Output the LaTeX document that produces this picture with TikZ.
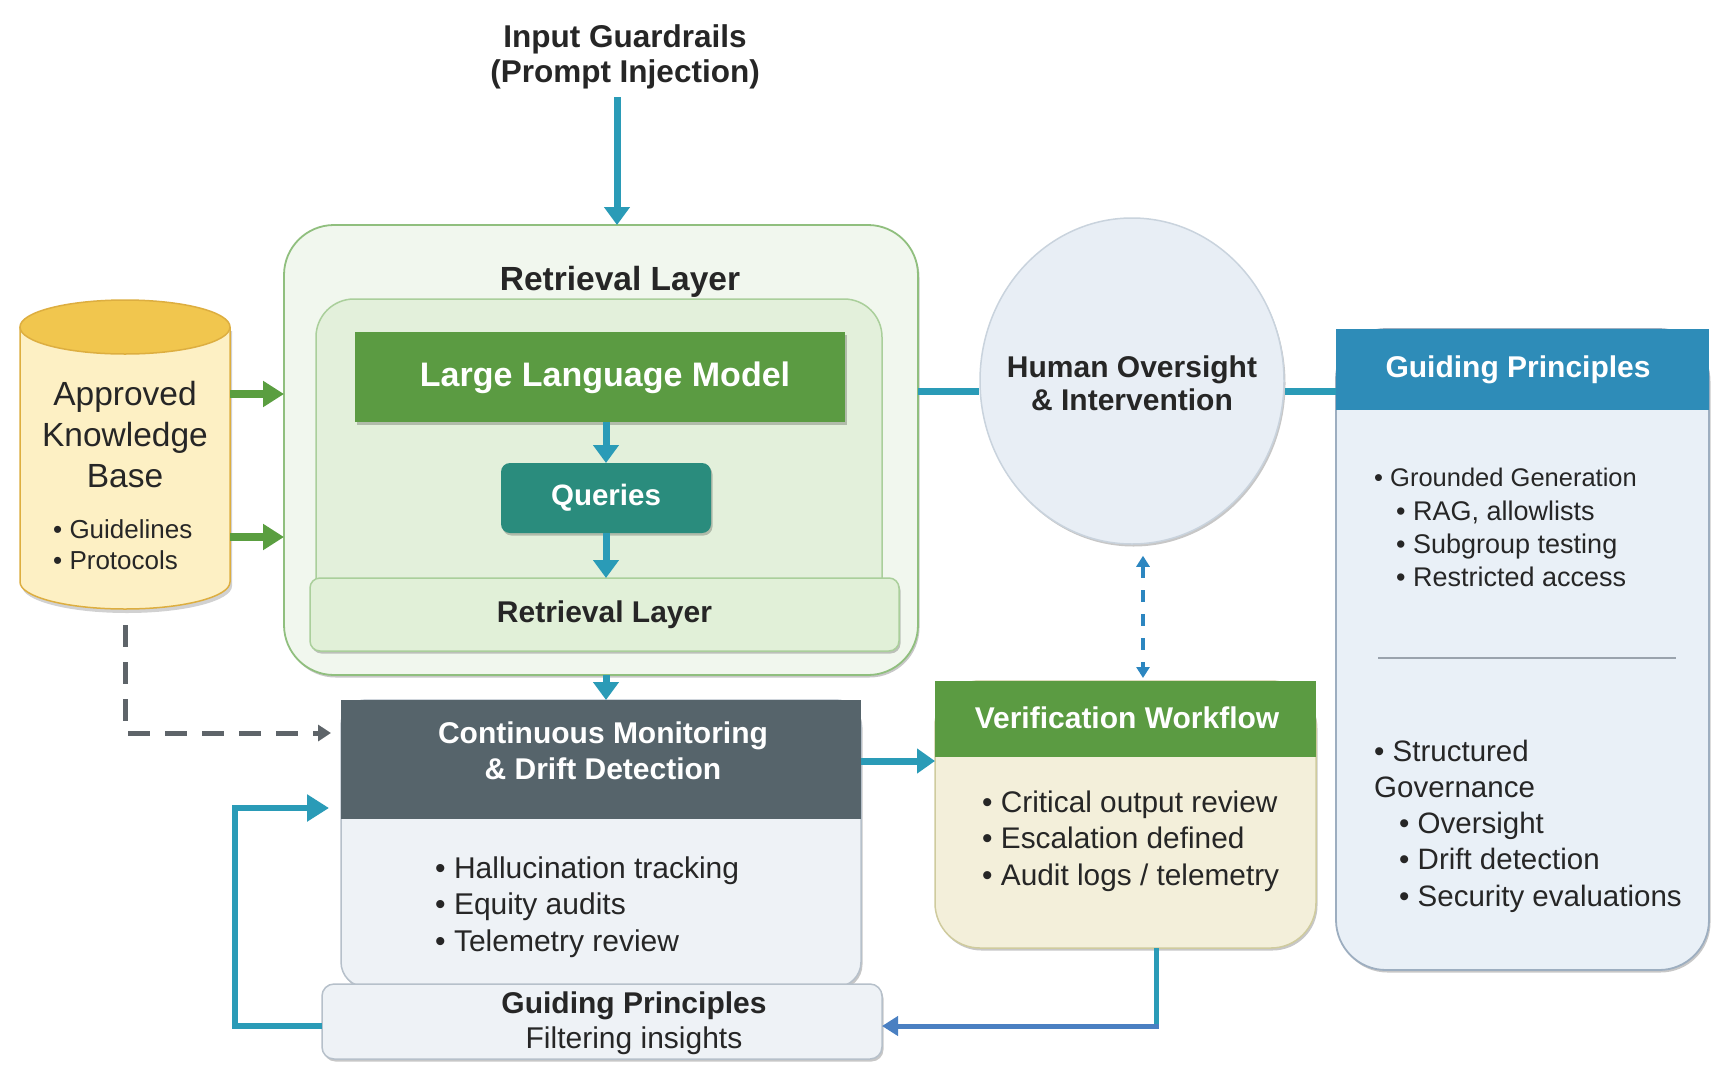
\documentclass[tikz,border=0pt]{standalone}
\usepackage{fontspec}
\setmainfont{Liberation Sans}
\usetikzlibrary{arrows.meta,shapes.geometric,shadows}
\newcommand{\myfs}[2]{\fontsize{#1pt}{#2pt}\selectfont}
\definecolor{tealA}{HTML}{2A9BB7}
\definecolor{greenA}{HTML}{5B9B42}
\definecolor{greenArr}{HTML}{5A9E40}
\definecolor{queriesC}{HTML}{2A8C7D}
\definecolor{outerF}{HTML}{F1F7EE}
\definecolor{outerD}{HTML}{90BF7E}
\definecolor{innerF}{HTML}{E3F0DB}
\definecolor{innerD}{HTML}{AACF9B}
\definecolor{barF}{HTML}{E1F0D8}
\definecolor{cylBody}{HTML}{FDF0C4}
\definecolor{cylTop}{HTML}{F1C64E}
\definecolor{cylD}{HTML}{DDAE40}
\definecolor{cmHead}{HTML}{56646B}
\definecolor{paleF}{HTML}{EEF2F6}
\definecolor{paleD}{HTML}{B6C0CA}
\definecolor{verBody}{HTML}{F3EFDA}
\definecolor{verD}{HTML}{CFCB9E}
\definecolor{humF}{HTML}{E8EEF5}
\definecolor{humD}{HTML}{C9D3DD}
\definecolor{gpHead}{HTML}{2E8CB8}
\definecolor{gpBody}{HTML}{E9F0F7}
\definecolor{gpD}{HTML}{9DAEC0}
\definecolor{sepC}{HTML}{9AA3AD}
\definecolor{dashGray}{HTML}{5E6469}
\definecolor{dashBlue}{HTML}{2C86C0}
\definecolor{fbBlue}{HTML}{4A80C2}
\definecolor{txt}{HTML}{262626}
\tikzset{
  shad/.style={drop shadow={shadow xshift=1.5pt,shadow yshift=-2.5pt,opacity=0.22,fill=black}},
  box/.style={rectangle, inner sep=0pt, outer sep=0pt},
  tarrow/.style={draw=tealA, line width=7pt, -{Triangle[length=18pt,width=25pt]}},
  tline/.style={draw=tealA, line width=7pt},
  garrow/.style={draw=greenArr, line width=8pt, -{Triangle[length=21pt,width=25pt]}},
  darktext/.style={text=txt, inner sep=0pt},
  whitetext/.style={text=white, inner sep=0pt},
}
\begin{document}
\begin{tikzpicture}[x=1pt,y=-1pt]
\useasboundingbox[fill=white] (0,0) rectangle (1729,1082);

% ---------- input guardrails ----------
\node[darktext, align=center, font={\myfs{31.5}{34.5}\bfseries}] (guard) at (625,57) {Input Guardrails\\(Prompt Injection)};

% ---------- retrieval layer block ----------
\node[box, draw=outerD, fill=outerF, line width=1.8pt, rounded corners=50pt, minimum width=634pt, minimum height=450pt, shad] (outer) at (601,450) {};
\node[darktext, font={\myfs{33.5}{38}\bfseries}] (rltitle) at (620,282) {Retrieval Layer};
\node[box, draw=innerD, fill=innerF, line width=1.5pt, rounded corners=38pt, minimum width=566pt, minimum height=341pt] (inner) at (599,469.5) {};
\node[box, fill=greenA, minimum width=490pt, minimum height=90pt, shad] (llm) at (600,377) {};
\node[whitetext, font={\myfs{34}{38}\bfseries}] (llmtext) at (605,378) {Large Language Model};
\node[box, fill=queriesC, rounded corners=9pt, minimum width=210pt, minimum height=70pt, shad, text=white, font={\myfs{29.5}{34}\bfseries}] (queries) at (606,498) {Queries};
\node[box, fill=barF, draw=innerD, line width=1.5pt, rounded corners=10pt, minimum width=589pt, minimum height=73pt, shad, text=txt, font={\myfs{30}{34}\bfseries}] (rlbar) at (604.5,614.5) {Retrieval Layer};

\draw[tarrow] (llm.south -| queries.north) -- (queries.north);
\draw[tarrow] (queries.south) -- (queries.south |- rlbar.north);

% ---------- knowledge base cylinder ----------
\node[box, minimum width=210pt, minimum height=309pt] (kb) at (125,454.5) {};
\fill[black, opacity=0.18] (22,331) -- (22,586) arc[start angle=180, end angle=360, x radius=105pt, y radius=27pt] -- (232,331) -- cycle;
\draw[draw=cylD, fill=cylBody, line width=1.5pt] (20,327) -- (20,582) arc[start angle=180, end angle=360, x radius=105pt, y radius=27pt] -- (230,327);
\draw[draw=cylD, fill=cylTop, line width=1.5pt] (125,327) ellipse [x radius=105pt, y radius=27pt];
\node[darktext, align=center, font={\myfs{33.5}{41}}] (kbtext) at (125,435) {Approved\\Knowledge\\Base};
\node[darktext, align=left, anchor=west, font={\myfs{26}{31}}] (kbbul) at (53,545) {• Guidelines\\• Protocols};

\coordinate (ga) at (0,394);
\coordinate (gb) at (0,537);
\draw[garrow] (kb.east |- ga) -- (outer.west |- ga);
\draw[garrow] (kb.east |- gb) -- (outer.west |- gb);

% ---------- continuous monitoring ----------
\node[box, fill=paleF, draw=paleD, line width=1.5pt, rounded corners=25pt, minimum width=520pt, minimum height=287pt, shad] (cm) at (601,843.5) {};
\node[box, fill=cmHead, minimum width=520pt, minimum height=119pt] (cmhead) at (601,759.5) {};
\node[whitetext, align=center, font={\myfs{30}{36.5}\bfseries}] (cmtitle) at (603,751) {Continuous Monitoring\\\& Drift Detection};
\node[darktext, align=left, anchor=west, font={\myfs{30}{36.5}}] (cmbul) at (435,907) {• Hallucination tracking\\• Equity audits\\• Telemetry review};

\draw[tarrow] (queries.south |- outer.south) -- (queries.south |- cmhead.north);

% dashed link from knowledge base
\coordinate (dg) at (0,733);
\draw[draw=dashGray, line width=5pt, dash pattern=on 22pt off 15pt, -{Triangle[length=13pt,width=16pt]}] ([yshift=-16pt]kb.south) |- ([xshift=-10pt]cm.west |- dg);

% ---------- bottom guiding principles ----------
\node[box, fill=paleF, draw=paleD, line width=1.5pt, rounded corners=12pt, minimum width=560pt, minimum height=75pt, shad] (gpb) at (602,1021.5) {};
\node[darktext, align=center, font={\myfs{30}{35.5}}] (gpbtext) at (634,1023) {\textbf{Guiding Principles}\\Filtering insights};

% feedback loop
\coordinate (fb1) at (235,1026);
\coordinate (fb2) at (235,808);
\draw[draw=tealA, line width=6pt, -{Triangle[length=22pt,width=26pt]}] (gpb.west |- fb1) -- (fb1) -- (fb2) -- ([xshift=-12pt]cm.west |- fb2);

% ---------- verification workflow ----------
\node[box, fill=verBody, draw=verD, line width=1.5pt, rounded corners=45pt, minimum width=381pt, minimum height=267pt, shad] (ver) at (1125.5,814.5) {};
\node[box, fill=greenA, minimum width=381pt, minimum height=76pt] (verhead) at (1125.5,719) {};
\node[whitetext, font={\myfs{30}{34}\bfseries}] (vertitle) at (1127,718) {Verification Workflow};
\node[darktext, align=left, anchor=west, font={\myfs{29.8}{36.5}}] (verbul) at (982,841) {• Critical output review\\• Escalation defined\\• Audit logs / telemetry};

\coordinate (cv) at (0,761);
\draw[draw=tealA, line width=7pt, -{Triangle[length=18pt,width=24pt]}] (cmhead.east |- cv) -- (verhead.west |- cv);

\coordinate (vb) at (1156,1026);
\draw[draw=tealA, line width=5pt] (ver.south -| vb) -- ([yshift=-2.5pt]vb);
\draw[draw=fbBlue, line width=5pt, -{Triangle[length=16pt,width=19pt]}] ([xshift=2.5pt]vb) -- (gpb.east |- vb);

% ---------- human oversight ----------
\node[ellipse, inner sep=0pt, minimum width=304pt, minimum height=326pt, fill=humF, draw=humD, line width=1.5pt, shad] (hum) at (1132,381) {};
\node[darktext, align=center, font={\myfs{30}{33}\bfseries}] (humtext) at (1132,383) {Human Oversight\\\& Intervention};

\coordinate (dbx) at (1143,0);
\draw[draw=dashBlue, line width=3.5pt, dash pattern=on 12pt off 12pt, {Triangle[length=11pt,width=13pt]}-{Triangle[length=11pt,width=13pt]}] ([yshift=-11pt]hum.south -| dbx) -- ([yshift=3pt]ver.north -| dbx);

% ---------- right guiding principles panel ----------
\node[box, fill=gpBody, draw=gpD, line width=1.8pt, rounded corners=50pt, minimum width=373pt, minimum height=641pt, shad] (gp) at (1522.5,649.5) {};
\node[box, fill=gpHead, minimum width=373pt, minimum height=81pt] (gphead) at (1522.5,369.5) {};
\node[whitetext, font={\myfs{30}{34}\bfseries}] (gptitle) at (1518,370) {Guiding Principles};
\node[darktext, anchor=west, font={\myfs{25.5}{33}}] (gpbul1) at (1374,477) {• Grounded Generation};
\node[darktext, align=left, anchor=west, font={\myfs{27}{33}}] (gpbul1s) at (1396,544) {• RAG, allowlists\\• Subgroup testing\\• Restricted access};
\draw[draw=sepC, line width=2.5pt] (1378,658) -- (1676,658);
\node[darktext, align=left, anchor=west, font={\myfs{29.5}{36.3}}] (gpbul2) at (1374,826) {• Structured\\Governance\\\hspace*{25pt}• Oversight\\\hspace*{25pt}• Drift detection\\\hspace*{25pt}• Security evaluations};

% connectors to human oversight
\coordinate (hl) at (0,391);
\draw[tline] (outer.east |- hl) -- (hum.west |- hl);
\draw[tline] (hum.east |- hl) -- (gphead.west |- hl);

% input arrow
\coordinate (gx) at (617,0);
\draw[tarrow] ([yshift=-8pt]guard.south -| gx) -- (outer.north -| gx);
\end{tikzpicture}
\end{document}
